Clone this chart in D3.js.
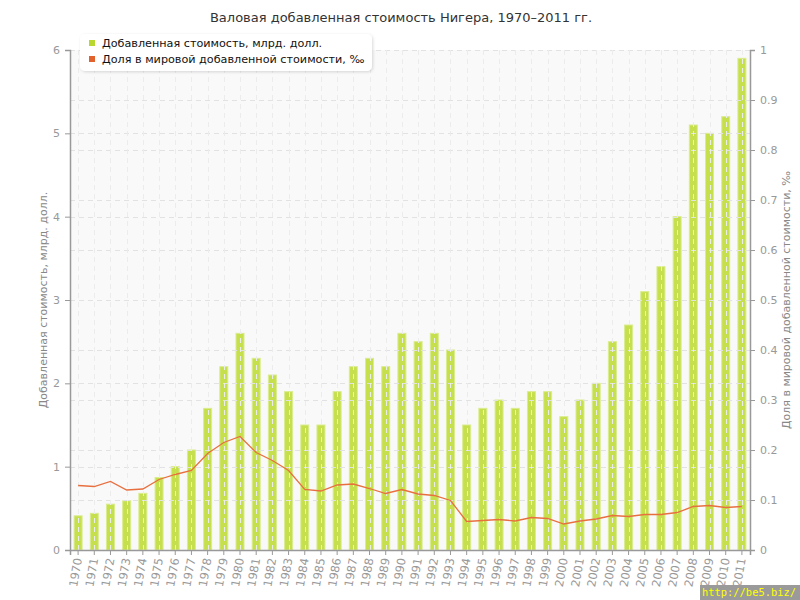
<!DOCTYPE html>
<html><head><meta charset="utf-8">
<script src="https://cdn.jsdelivr.net/npm/d3@7"></script>
<style>body{margin:0;background:#fff}svg{display:block}</style>
</head><body>
<script>
const years = ["1970","1971","1972","1973","1974","1975","1976","1977","1978","1979","1980","1981","1982","1983","1984","1985","1986","1987","1988","1989","1990","1991","1992","1993","1994","1995","1996","1997","1998","1999","2000","2001","2002","2003","2004","2005","2006","2007","2008","2009","2010","2011"];
const valueAdded = [0.41,0.44,0.55,0.59,0.68,0.87,1.0,1.2,1.7,2.2,2.6,2.3,2.1,1.9,1.5,1.5,1.9,2.2,2.3,2.2,2.6,2.5,2.6,2.4,1.5,1.7,1.8,1.7,1.9,1.9,1.6,1.8,2.0,2.5,2.7,3.1,3.4,4.0,5.1,5.0,5.2,5.9];
const worldShare = [0.129,0.127,0.137,0.120,0.122,0.141,0.151,0.159,0.193,0.215,0.227,0.195,0.179,0.159,0.121,0.118,0.130,0.132,0.123,0.113,0.121,0.112,0.109,0.099,0.057,0.059,0.061,0.058,0.065,0.063,0.052,0.058,0.062,0.069,0.067,0.071,0.071,0.075,0.087,0.089,0.085,0.087];
const leftTicks = [0,1,2,3,4,5,6];
const rightTicks = [0,0.1,0.2,0.3,0.4,0.5,0.6,0.7,0.8,0.9,1];
const title = "Валовая добавленная стоимость Нигера, 1970–2011 гг.";
const seriesNames = ["Добавленная стоимость, млрд. долл.","Доля в мировой добавленной стоимости, ‰"];
const leftTitle = "Добавленная стоимость, млрд. долл.";
const rightTitle = "Доля в мировой добавленной стоимости, ‰";

const W=800,H=600, L=70, R=750, T=50, B=550;
const font = "'DejaVu Sans', Verdana, sans-serif";
const svg = d3.select("body").append("svg").attr("width",W).attr("height",H).style("font-family",font);

const x = d3.scaleBand().domain(years).range([L,R]).padding(0);
const yL = d3.scaleLinear().domain([0,6]).range([B,T]);
const yR = d3.scaleLinear().domain([0,1]).range([B,T]);

svg.append("rect").attr("x",L).attr("y",T).attr("width",R-L).attr("height",B-T).attr("fill","#f9f9f9");

// bars
const bw = 8;
svg.append("g").selectAll("rect").data(valueAdded).join("rect")
  .attr("x",(d,i)=>x(years[i])+x.bandwidth()/2-bw/2)
  .attr("y",d=>yL(d))
  .attr("width",bw)
  .attr("height",d=>B-yL(d))
  .attr("fill","#c6df4c").attr("stroke","#d9ec8e").attr("stroke-width",1);

// grid
const grid = svg.append("g").attr("stroke","#e2e2e2").attr("stroke-dasharray","5,4").attr("stroke-width",1);
grid.selectAll(".hl").data(leftTicks.slice(1)).join("line")
  .attr("x1",L).attr("x2",R).attr("y1",d=>Math.round(yL(d))+0.5).attr("y2",d=>Math.round(yL(d))+0.5);
grid.selectAll(".hr").data(rightTicks.slice(1)).join("line")
  .attr("x1",L).attr("x2",R).attr("y1",d=>Math.round(yR(d))+0.5).attr("y2",d=>Math.round(yR(d))+0.5);
grid.selectAll(".v").data(years).join("line")
  .attr("x1",d=>Math.round(x(d)+x.bandwidth()/2)+0.5).attr("x2",d=>Math.round(x(d)+x.bandwidth()/2)+0.5)
  .attr("y1",T).attr("y2",B).attr("stroke","#ececec");

// line
const line = d3.line().x((d,i)=>x(years[i])+x.bandwidth()/2).y(d=>yR(d));
svg.append("path").datum(worldShare).attr("d",line).attr("fill","none").attr("stroke","#e8703f").attr("stroke-width",1.3);

// axes
const axisColor="#999";
const gL = svg.append("g").attr("transform",`translate(${L},0)`).call(d3.axisLeft(yL).tickValues(leftTicks).tickSize(5).tickPadding(5).tickFormat(d3.format("d")));
const gR = svg.append("g").attr("transform",`translate(${R},0)`).call(d3.axisRight(yR).tickValues(rightTicks).tickSize(5).tickPadding(5).tickFormat(d=>d===0?"0":d===1?"1":d3.format(".1f")(d)));
const gX = svg.append("g").attr("transform",`translate(0,${B})`).call(d3.axisBottom(x).tickSize(5).tickPadding(6));
[gL,gR,gX].forEach(g=>{
  g.selectAll("path").attr("stroke",axisColor).attr("stroke-width",1.5);
  g.selectAll("line").attr("stroke",axisColor);
  g.selectAll("text").attr("fill","#999").style("font-family",font).style("font-size","11px");
});
gX.selectAll("text").attr("text-anchor","end").attr("dy","0.35em")
  .attr("transform","translate(0,8) rotate(-80)").attr("x",0).attr("y",0).style("font-size","11.5px");

// axis titles
svg.append("text").attr("transform",`translate(47,${(T+B)/2}) rotate(-90)`).attr("text-anchor","middle")
  .attr("fill","#888").style("font-size","11px").text(leftTitle);
svg.append("text").attr("transform",`translate(790,${(T+B)/2}) rotate(-90)`).attr("text-anchor","middle")
  .attr("fill","#888").style("font-size","11px").text(rightTitle);

// title
svg.append("text").attr("x",401).attr("y",22).attr("text-anchor","middle").attr("fill","#333").style("font-size","13px").text(title);

// legend
const defs = svg.append("defs");
const f = defs.append("filter").attr("id","sh").attr("x","-10%").attr("y","-20%").attr("width","120%").attr("height","160%");
f.append("feDropShadow").attr("dx",1).attr("dy",1).attr("stdDeviation",1.5).attr("flood-color","#000").attr("flood-opacity",0.15);
svg.append("rect").attr("x",80).attr("y",34).attr("width",292).attr("height",37).attr("rx",5)
  .attr("fill","#fff").attr("filter","url(#sh)");
const colors=["#b8d831","#e2622e"];
const lg = svg.append("g");
seriesNames.forEach((n,i)=>{
  lg.append("rect").attr("x",89).attr("y",40+i*16).attr("width",6).attr("height",6).attr("fill",colors[i]);
  lg.append("text").attr("x",102).attr("y",47+i*16).attr("fill","#111").style("font-size","11.2px").text(n);
});

// watermark
svg.append("rect").attr("x",700).attr("y",585).attr("width",100).attr("height",15).attr("fill","#9a9a9a");
svg.append("text").attr("x",702).attr("y",596).attr("fill","#ffff00").attr("textLength",94).attr("lengthAdjust","spacingAndGlyphs")
  .style("font-family","'DejaVu Sans Mono', monospace").style("font-size","11px").text("http://be5.biz/");
</script>
</body></html>
